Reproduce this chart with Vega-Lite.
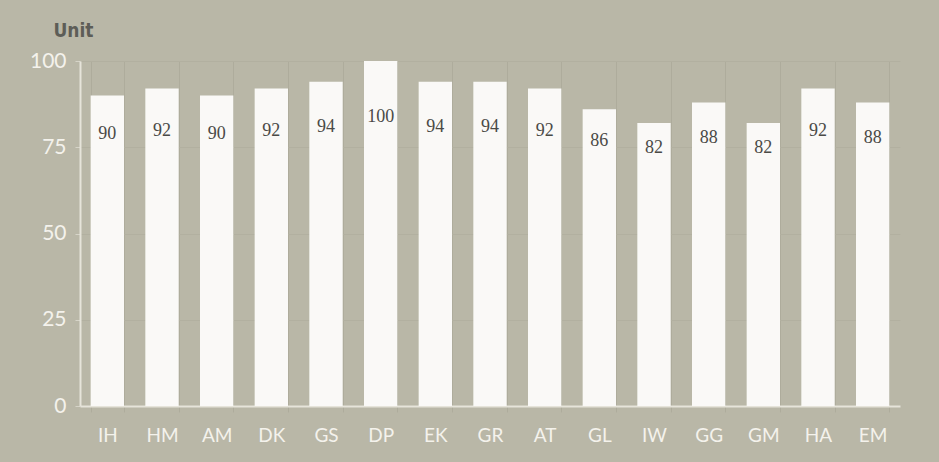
{
  "$schema": "https://vega.github.io/schema/vega-lite/v6.json",
  "autosize": "none",
  "width": 820,
  "height": 345,
  "padding": {"left": 80, "top": 61, "right": 39, "bottom": 56},
  "background": "#b9b7a7",
  "config": {
    "view": {"stroke": null},
    "axis": {"labelFont": "Lato"}
  },
  "data": {
    "values": [
      {"code": "IH", "value": 90},
      {"code": "HM", "value": 92},
      {"code": "AM", "value": 90},
      {"code": "DK", "value": 92},
      {"code": "GS", "value": 94},
      {"code": "DP", "value": 100},
      {"code": "EK", "value": 94},
      {"code": "GR", "value": 94},
      {"code": "AT", "value": 92},
      {"code": "GL", "value": 86},
      {"code": "IW", "value": 82},
      {"code": "GG", "value": 88},
      {"code": "GM", "value": 82},
      {"code": "HA", "value": 92},
      {"code": "EM", "value": 88}
    ]
  },
  "encoding": {
    "x": {
      "field": "code",
      "type": "nominal",
      "sort": null,
      "scale": {"paddingInner": 0.39, "paddingOuter": 0.195},
      "axis": {
        "title": null,
        "labelAngle": 0,
        "labelColor": "#f4f2ec",
        "labelFontSize": 19,
        "labelPadding": 14,
        "tickBand": "extent",
        "ticks": true,
        "tickSize": 6,
        "tickColor": "#aeac9c",
        "grid": true,
        "gridColor": "#aeac9c",
        "gridWidth": 1,
        "domainColor": "#e6e4da",
        "domainWidth": 2
      }
    }
  },
  "layer": [
    {
      "mark": {"type": "bar", "color": "#faf9f7"},
      "encoding": {
        "y": {
          "field": "value",
          "type": "quantitative",
          "scale": {"domain": [0, 100], "nice": false},
          "axis": {
            "title": "Unit",
            "titleFont": "DejaVu Sans Condensed, Liberation Sans Narrow, sans-serif",
            "titleAngle": 0,
            "titleX": -7,
            "titleY": -31,
            "titleAlign": "center",
            "titleBaseline": "middle",
            "titleFontSize": 19,
            "titleFontWeight": "bold",
            "titleColor": "#5d5d57",
            "values": [0, 25, 50, 75, 100],
            "labelColor": "#f4f2ec",
            "labelFontSize": 21,
            "labelPadding": 9,
            "tickSize": 5,
            "tickColor": "#d6d4c8",
            "domainColor": "#e6e4da",
            "domainWidth": 2,
            "grid": true,
            "gridColor": "#b2b0a0",
            "gridWidth": 1
          }
        }
      }
    },
    {
      "mark": {"type": "text", "font": "Liberation Serif", "fontSize": 18, "color": "#4a4a46", "baseline": "middle"},
      "encoding": {
        "y": {
          "field": "value",
          "type": "quantitative",
          "scale": {"domain": [-68, 132.6], "nice": false, "zero": false},
          "axis": null
        },
        "text": {"field": "value", "type": "quantitative"}
      }
    }
  ],
  "resolve": {"scale": {"y": "independent"}}
}
